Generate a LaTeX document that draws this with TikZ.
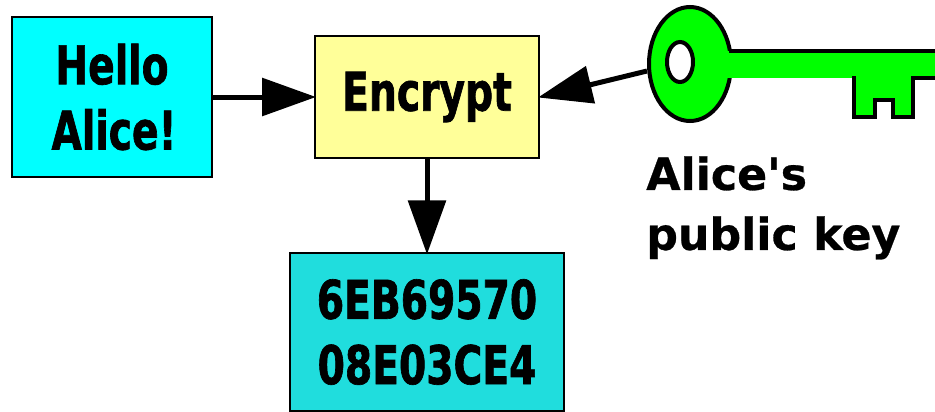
\documentclass[tikz,border=0pt]{standalone}
\usepackage{fontspec}
\usetikzlibrary{arrows.meta,shapes.geometric}
\newfontfamily\boxfont[FakeStretch=0.735,FakeBold=1.2]{DejaVu Sans Bold}
\newfontfamily\keyfont[FakeBold=0.6]{DejaVu Sans Bold}
\definecolor{plainbox}{HTML}{00FFFF}
\definecolor{encryptbox}{HTML}{FFFF99}
\definecolor{cipherbox}{HTML}{20DDDD}
\definecolor{keygreen}{HTML}{00FF00}

\begin{document}
\begin{tikzpicture}[
    x=0.75pt,
    y=-0.75pt,
    box/.style={draw, line width=1.5pt, inner sep=0pt, font=\boxfont\fontsize{40}{49}\selectfont, align=center},
    connector/.style={-{Triangle[length=40.5pt, width=28pt]}, line width=3.75pt, shorten >=-1.5pt},
    keyline/.style={draw, line width=3pt, miter limit=10}
]
\useasboundingbox (0,0) rectangle (935,411);
\clip (0,0) rectangle (935,411);

% Boxes
\node[box, fill=plainbox, minimum width=150pt, minimum height=120pt] (hello) at (112,97) {Hello\\\kern3pt Alice!};
\node[box, fill=encryptbox, minimum width=168pt, minimum height=91.5pt] (encrypt) at (427,97) {Encrypt};
\node[box, fill=cipherbox, minimum width=205.5pt, minimum height=118pt] (cipher) at (427,332) {6EB69570\\08E03CE4};

% Key
\node[keyline, ellipse, fill=keygreen, inner sep=0pt, minimum width=61.5pt, minimum height=85.5pt] (keyhead) at (690,64) {};
\node[keyline, ellipse, fill=white, inner sep=0pt, minimum width=19.5pt, minimum height=30pt] (keyhole) at (680,62) {};
\fill[keygreen] (720,51) -- (935,51) -- (935,78) -- (720,78) -- cycle;
\draw[keyline, fill=keygreen] (729,51) -- (935,51) (935,78) -- (854,78) -- (854,117) -- (875,117) -- (875,100) -- (893,100) -- (893,117) -- (913,117) -- (913,78) -- (935,78);
\fill[keygreen] (856,70) rectangle (911,79.5);

% Key label
\node[anchor=north west, inner sep=0pt, align=left, font=\keyfont\fontsize{33.2}{45}\selectfont] (keylabel) at (646,156) {Alice's\\public key};

% Arrows
\draw[connector] (hello.east) -- (encrypt.west);
\draw[connector] (encrypt.south) -- (cipher.north);
\draw[connector] (keyhead.west |- 0,71) -- (encrypt.east);

\end{tikzpicture}
\end{document}
